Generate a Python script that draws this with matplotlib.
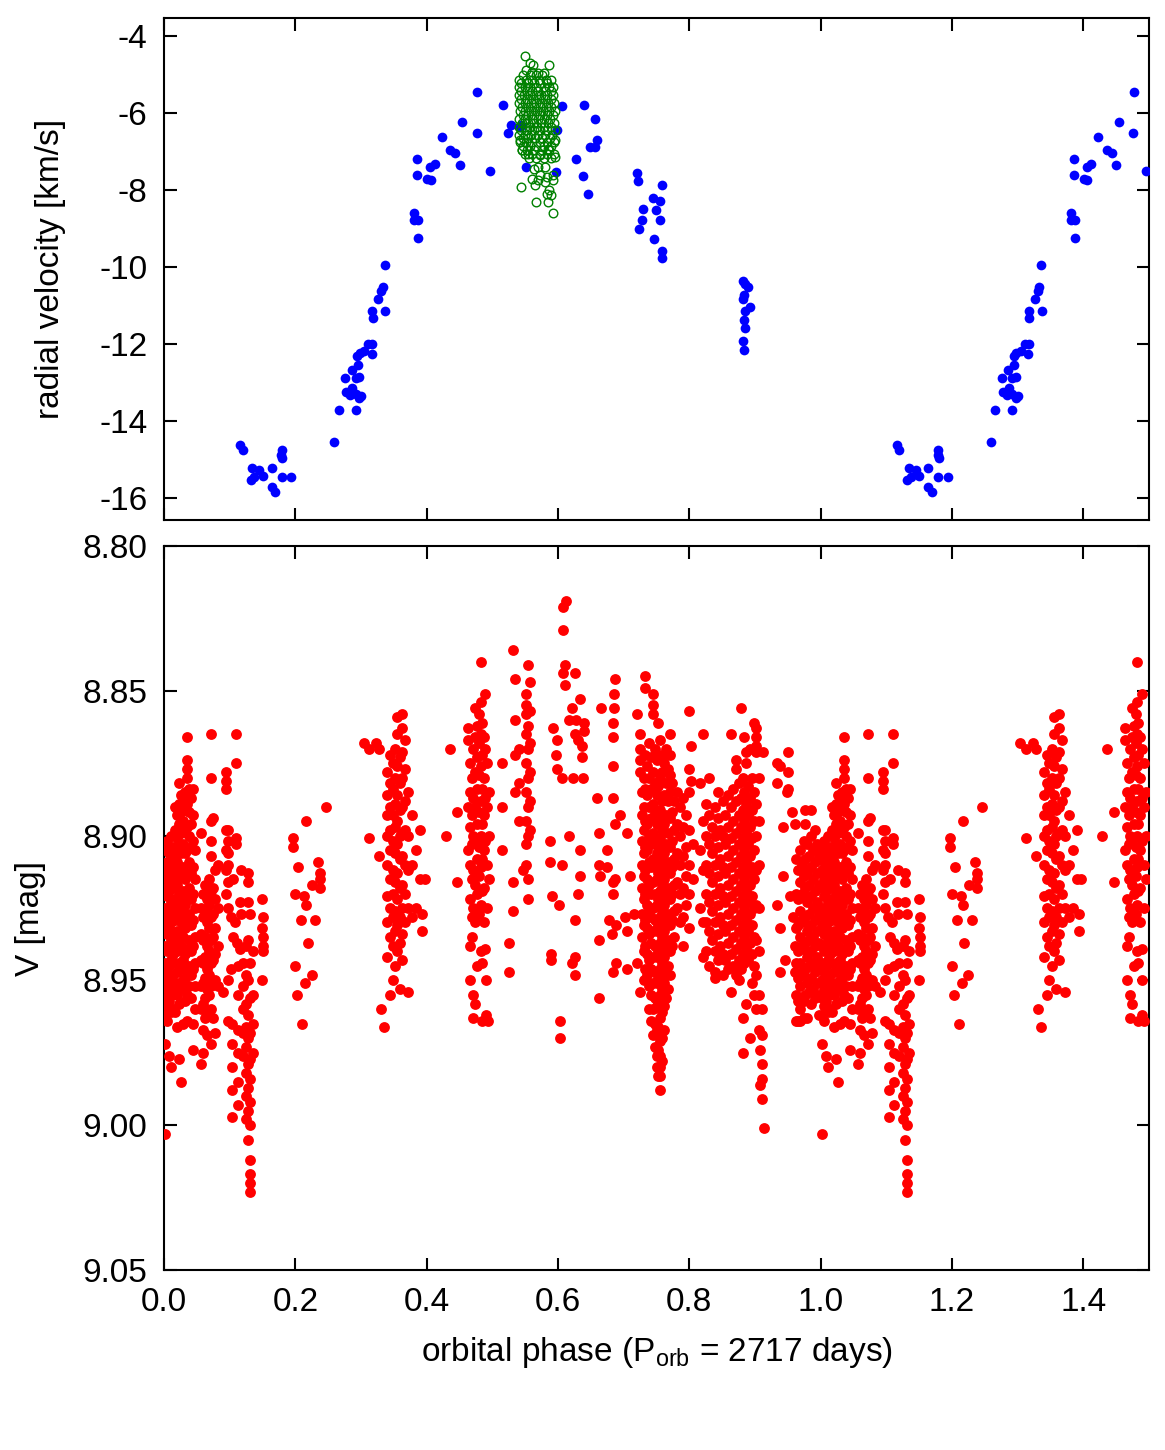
import matplotlib
matplotlib.use("Agg")
import matplotlib.pyplot as plt

plt.rcParams['font.family'] = ['Liberation Sans', 'DejaVu Sans']
plt.rcParams['axes.unicode_minus'] = False

# ---------------- radial velocity (blue, phase 0..1, repeated at +1) ----------------
rv_phase = [0.116, 0.120, 0.134, 0.145, 0.132, 0.137, 0.150, 0.164, 0.164, 0.169,
            0.179, 0.178, 0.180, 0.179, 0.194,
            0.259, 0.266, 0.292, 0.276, 0.286, 0.277, 0.283, 0.287, 0.292, 0.297,
            0.300, 0.292, 0.297, 0.295, 0.294, 0.298, 0.305, 0.311, 0.317, 0.316,
            0.318, 0.317, 0.337, 0.326, 0.331, 0.333, 0.336,
            0.381, 0.381, 0.387, 0.387, 0.386, 0.386, 0.401, 0.406, 0.405, 0.412,
            0.423, 0.436, 0.443, 0.450, 0.454, 0.476, 0.477, 0.496,
            0.517, 0.528, 0.524, 0.542, 0.544, 0.551, 0.597, 0.599, 0.606,
            0.627, 0.638, 0.645, 0.640, 0.656, 0.659, 0.649, 0.657,
            0.720, 0.722, 0.758, 0.745, 0.755, 0.730, 0.749, 0.728, 0.755, 0.724,
            0.746, 0.759, 0.759,
            0.881, 0.885, 0.890, 0.883, 0.881, 0.892, 0.885, 0.883, 0.885, 0.882, 0.884]
rv_value = [-14.62, -14.74, -15.22, -15.26, -15.52, -15.46, -15.44, -15.22, -15.70, -15.85,
            -14.75, -14.87, -14.96, -15.46, -15.46,
            -14.55, -13.71, -13.71, -12.87, -12.68, -13.25, -13.33, -13.14, -13.30, -13.40,
            -13.34, -12.87, -12.85, -12.55, -12.32, -12.23, -12.19, -11.99, -11.99, -12.25,
            -11.32, -11.14, -11.14, -10.83, -10.61, -10.53, -9.94,
            -8.60, -8.79, -8.79, -9.24, -7.20, -7.60, -7.71, -7.75, -7.41, -7.32,
            -6.61, -6.97, -7.04, -7.36, -6.23, -6.52, -5.45, -7.51,
            -5.78, -6.32, -6.53, -6.35, -6.31, -7.40, -7.54, -6.45, -5.81,
            -7.19, -7.63, -8.10, -5.79, -6.15, -6.69, -6.87, -6.88,
            -7.55, -7.76, -7.88, -8.20, -8.28, -8.49, -8.51, -8.77, -8.77, -9.00,
            -9.26, -9.58, -9.77,
            -10.36, -10.44, -10.52, -10.72, -10.82, -11.04, -11.15, -11.38, -11.58, -11.91, -12.16]

# ---------------- second RV data set (green open circles) ----------------
green_rows = [
    (-5.02, [0.546, 0.557, 0.566, 0.576]),
    (-5.13, [0.541, 0.552, 0.560, 0.571, 0.581, 0.589]),
    (-5.22, [0.544, 0.554, 0.563, 0.573, 0.584]),
    (-5.33, [0.540, 0.549, 0.558, 0.567, 0.578, 0.586, 0.592]),
    (-5.42, [0.543, 0.553, 0.561, 0.570, 0.580, 0.589]),
    (-5.53, [0.540, 0.548, 0.557, 0.566, 0.574, 0.584, 0.593]),
    (-5.63, [0.544, 0.553, 0.562, 0.571, 0.580, 0.590]),
    (-5.74, [0.541, 0.549, 0.559, 0.567, 0.576, 0.585, 0.594]),
    (-5.84, [0.545, 0.554, 0.563, 0.572, 0.581, 0.590]),
    (-5.95, [0.542, 0.550, 0.559, 0.568, 0.577, 0.587, 0.595]),
    (-6.04, [0.546, 0.555, 0.564, 0.573, 0.583, 0.592]),
    (-6.16, [0.541, 0.550, 0.560, 0.569, 0.579, 0.588]),
    (-6.25, [0.545, 0.554, 0.564, 0.574, 0.585, 0.594]),
    (-6.36, [0.540, 0.549, 0.558, 0.568, 0.578, 0.590]),
    (-6.45, [0.544, 0.553, 0.563, 0.573, 0.584, 0.595]),
    (-6.56, [0.541, 0.550, 0.559, 0.569, 0.580, 0.591]),
    (-6.65, [0.546, 0.555, 0.565, 0.576, 0.588]),
    (-6.76, [0.542, 0.551, 0.561, 0.572, 0.584, 0.594]),
    (-6.86, [0.547, 0.557, 0.567, 0.579, 0.590]),
    (-6.95, [0.545, 0.553, 0.563, 0.575, 0.586]),
    (-7.06, [0.550, 0.560, 0.572, 0.583, 0.594]),
    (-7.16, [0.556, 0.567, 0.579, 0.590]),
]
green_extra_phase = [0.550, 0.557, 0.562, 0.586, 0.552, 0.578, 0.560, 0.570,
                     0.542, 0.545, 0.555, 0.585, 0.595, 0.573, 0.595,
                     0.570, 0.564, 0.580, 0.593, 0.584, 0.573, 0.560, 0.570, 0.593,
                     0.544, 0.565, 0.580, 0.583, 0.590, 0.585, 0.566, 0.593, 0.586]
green_extra_value = [-4.52, -4.71, -4.75, -4.74, -4.88, -4.97, -4.92, -4.95,
                     -6.70, -6.96, -7.05, -6.92, -6.70, -7.09, -7.13,
                     -7.39, -7.44, -7.39, -7.61, -7.65, -7.61, -7.72, -7.74, -7.74,
                     -7.91, -7.87, -7.78, -8.09, -8.13, -8.30, -8.30, -8.59, -8.00]

# ---------------- V photometry (red, phase 0..1, repeated at +1) ----------------
v_strips = [
    # phase 0.00 - 0.05
    (0.002, [8.905, 8.912, 8.918, 8.925, 8.931, 8.938, 8.944, 8.950, 8.956, 8.962, 8.972, 9.003]),
    (0.005, [8.902, 8.909, 8.915, 8.921, 8.928, 8.934, 8.940, 8.947, 8.953, 8.959, 8.964]),
    (0.008, [8.906, 8.913, 8.919, 8.926, 8.932, 8.939, 8.945, 8.951, 8.957, 8.976]),
    (0.011, [8.900, 8.908, 8.916, 8.923, 8.930, 8.936, 8.943, 8.949, 8.955, 8.961, 8.980]),
    (0.014, [8.904, 8.911, 8.918, 8.927, 8.935, 8.941, 8.948, 8.954, 8.960]),
    (0.017, [8.890, 8.898, 8.907, 8.914, 8.922, 8.929, 8.937, 8.944, 8.952, 8.961]),
    (0.020, [8.893, 8.901, 8.909, 8.917, 8.925, 8.933, 8.940, 8.947, 8.955, 8.966]),
    (0.023, [8.882, 8.889, 8.896, 8.904, 8.912, 8.920, 8.928, 8.936, 8.944, 8.951, 8.958, 8.977]),
    (0.026, [8.886, 8.892, 8.899, 8.906, 8.914, 8.922, 8.930, 8.938, 8.946, 8.953, 8.985]),
    (0.029, [8.888, 8.895, 8.903, 8.911, 8.919, 8.927, 8.935, 8.943, 8.950, 8.965]),
    (0.032, [8.885, 8.891, 8.898, 8.906, 8.915, 8.924, 8.932, 8.941, 8.949, 8.957]),
    (0.035, [8.866, 8.874, 8.877, 8.880, 8.889, 8.897, 8.905, 8.913, 8.921, 8.930, 8.939, 8.947, 8.955, 8.964]),
    (0.038, [8.884, 8.892, 8.900, 8.909, 8.918, 8.927, 8.936, 8.945, 8.952]),
    (0.041, [8.887, 8.896, 8.904, 8.913, 8.922, 8.931, 8.940, 8.948, 8.956]),
    (0.044, [8.884, 8.893, 8.902, 8.911, 8.920, 8.929, 8.938, 8.946, 8.965, 8.974]),
    (0.047, [8.905, 8.915, 8.925, 8.935, 8.944, 8.952, 8.960]),
    # phase 0.055 - 0.085
    (0.057, [8.899, 8.925, 8.934, 8.943, 8.952, 8.960, 8.979]),
    (0.060, [8.920, 8.928, 8.936, 8.944, 8.951, 8.958, 8.967, 8.975]),
    (0.063, [8.917, 8.926, 8.935, 8.942, 8.949, 8.956, 8.963]),
    (0.066, [8.922, 8.930, 8.938, 8.946, 8.953, 8.961, 8.969]),
    (0.069, [8.915, 8.924, 8.932, 8.940, 8.948, 8.955, 8.962]),
    (0.072, [8.865, 8.880, 8.895, 8.902, 8.907, 8.919, 8.928, 8.936, 8.944, 8.952, 8.960, 8.972]),
    (0.075, [8.894, 8.918, 8.927, 8.935, 8.943, 8.951, 8.963]),
    (0.078, [8.912, 8.922, 8.932, 8.941, 8.950, 8.968]),
    (0.082, [8.910, 8.925, 8.938, 8.952]),
    # phase 0.09 - 0.155
    (0.090, [8.954]),
    (0.095, [8.878, 8.881, 8.884, 8.898, 8.905, 8.912, 8.920]),
    (0.098, [8.898, 8.902, 8.906, 8.910, 8.916, 8.925, 8.950, 8.964]),
    (0.102, [8.928, 8.946]),
    (0.104, [8.965, 8.972, 8.980, 8.988, 8.997]),
    (0.105, [8.915, 8.935]),
    (0.108, [8.930]),
    (0.110, [8.865, 8.875, 8.901, 8.903]),
    (0.111, [8.937]),
    (0.112, [8.945, 8.955, 8.967, 8.975, 8.985, 8.993]),
    (0.116, [8.923, 8.939]),
    (0.118, [8.912, 8.927]),
    (0.120, [8.944, 8.952, 8.960, 8.968, 8.976]),
    (0.125, [8.938, 8.948, 8.958, 8.966, 8.973, 8.982, 8.990, 8.998]),
    (0.128, [8.913, 8.916, 8.923, 8.936, 8.950, 8.962, 8.970, 8.979, 8.987, 8.995, 9.005]),
    (0.131, [8.927, 8.944, 8.956, 8.968, 8.977, 8.984, 8.992, 9.000, 9.012, 9.017, 9.020, 9.023]),
    (0.135, [8.940, 8.955, 8.965, 8.975]),
    (0.149, [8.922, 8.932, 8.950]),
    (0.151, [8.928, 8.935, 8.938, 8.940]),
    # phase 0.19 - 0.25
    (0.197, [8.901, 8.904]),
    (0.200, [8.920, 8.945]),
    (0.203, [8.955]),
    (0.204, [8.911]),
    (0.208, [8.929]),
    (0.210, [8.965]),
    (0.213, [8.921]),
    (0.215, [8.951]),
    (0.216, [8.895, 8.924]),
    (0.219, [8.937]),
    (0.225, [8.948]),
    (0.226, [8.917]),
    (0.230, [8.929]),
    (0.235, [8.909]),
    (0.238, [8.913, 8.915, 8.918]),
    (0.246, [8.890]),
    # phase 0.30 - 0.43
    (0.304, [8.868]),
    (0.312, [8.870, 8.901]),
    (0.323, [8.868]),
    (0.328, [8.870, 8.907]),
    (0.331, [8.960]),
    (0.335, [8.966]),
    (0.340, [8.878, 8.886, 8.893, 8.900, 8.910, 8.921, 8.930, 8.942]),
    (0.344, [8.872, 8.882, 8.890, 8.898, 8.905, 8.915, 8.925, 8.935, 8.955]),
    (0.348, [8.875, 8.884, 8.893, 8.902, 8.912, 8.920, 8.928, 8.938, 8.950]),
    (0.352, [8.870, 8.880, 8.889, 8.897, 8.906, 8.916, 8.926, 8.933, 8.945]),
    (0.355, [8.859, 8.865, 8.876, 8.886, 8.895, 8.903, 8.913, 8.922, 8.931, 8.940]),
    (0.359, [8.873, 8.882, 8.891, 8.900, 8.908, 8.918, 8.928, 8.937, 8.953]),
    (0.363, [8.858, 8.863, 8.871, 8.880, 8.890, 8.899, 8.907, 8.917, 8.925, 8.934, 8.943]),
    (0.367, [8.867, 8.877, 8.888, 8.898, 8.910, 8.920, 8.930]),
    (0.372, [8.885, 8.900, 8.912, 8.925, 8.954]),
    (0.378, [8.893, 8.910, 8.928]),
    (0.384, [8.905, 8.925]),
    (0.390, [8.898, 8.915]),
    (0.393, [8.927, 8.933]),
    (0.397, [8.915]),
    (0.429, [8.900]),
    # phase 0.43 - 0.50
    (0.436, [8.870]),
    (0.446, [8.892, 8.916]),
    (0.463, [8.863, 8.867, 8.890, 8.905]),
    (0.466, [8.875, 8.885, 8.897, 8.910, 8.922, 8.938, 8.950]),
    (0.469, [8.880, 8.893, 8.903, 8.915, 8.928, 8.935]),
    (0.471, [8.870, 8.887, 8.900, 8.912, 8.925, 8.955, 8.963]),
    (0.474, [8.856, 8.866, 8.878, 8.890, 8.902, 8.917, 8.930, 8.958]),
    (0.477, [8.862, 8.873, 8.884, 8.896, 8.908, 8.920, 8.945]),
    (0.480, [8.858, 8.868, 8.879, 8.892, 8.904, 8.914, 8.927]),
    (0.482, [8.840, 8.854, 8.865, 8.876, 8.888, 8.900, 8.911, 8.924, 8.940]),
    (0.484, [8.861, 8.872, 8.884, 8.896, 8.908, 8.919, 8.944, 8.964]),
    (0.487, [8.866, 8.880, 8.893, 8.905, 8.918, 8.930]),
    (0.489, [8.851, 8.870, 8.887, 8.902, 8.939]),
    (0.490, [8.950, 8.962]),
    (0.492, [8.875, 8.890, 8.910, 8.925]),
    (0.493, [8.964]),
    (0.495, [8.885, 8.900, 8.915]),
    # phase 0.51 - 0.56
    (0.515, [8.875, 8.890, 8.905]),
    (0.526, [8.937, 8.947]),
    (0.532, [8.836, 8.916, 8.926]),
    (0.535, [8.846, 8.860, 8.872, 8.885]),
    (0.540, [8.870, 8.882, 8.895]),
    (0.547, [8.912]),
    (0.552, [8.851, 8.855, 8.858, 8.865, 8.875, 8.885, 8.895, 8.903, 8.910]),
    (0.554, [8.841, 8.862, 8.870, 8.880, 8.890, 8.900, 8.915, 8.922]),
    (0.557, [8.847, 8.857, 8.868, 8.878, 8.888, 8.898]),
    # phase 0.585 - 0.725
    (0.588, [8.902, 8.909]),
    (0.589, [8.941, 8.943]),
    (0.591, [8.921]),
    (0.592, [8.863]),
    (0.597, [8.872]),
    (0.599, [8.867, 8.877]),
    (0.602, [8.924]),
    (0.603, [8.964, 8.970]),
    (0.606, [8.880, 8.910]),
    (0.607, [8.821, 8.829, 8.844]),
    (0.611, [8.841, 8.848]),
    (0.612, [8.819]),
    (0.616, [8.860, 8.900]),
    (0.621, [8.944]),
    (0.622, [8.856]),
    (0.623, [8.880]),
    (0.626, [8.844, 8.865, 8.929, 8.942, 8.948]),
    (0.628, [8.860]),
    (0.631, [8.867, 8.920]),
    (0.634, [8.853, 8.905, 8.914]),
    (0.636, [8.869, 8.873]),
    (0.638, [8.880]),
    (0.640, [8.861, 8.864]),
    (0.659, [8.887]),
    (0.662, [8.899, 8.910, 8.936, 8.956]),
    (0.664, [8.914]),
    (0.665, [8.856]),
    (0.674, [8.905, 8.911]),
    (0.677, [8.929]),
    (0.682, [8.934]),
    (0.683, [8.866, 8.876]),
    (0.684, [8.861, 8.887, 8.916, 8.920, 8.947]),
    (0.686, [8.851, 8.856]),
    (0.687, [8.846, 8.896, 8.915]),
    (0.689, [8.931, 8.944]),
    (0.694, [8.893]),
    (0.702, [8.928]),
    (0.705, [8.899, 8.933, 8.946]),
    (0.710, [8.914]),
    (0.715, [8.927]),
    (0.720, [8.858, 8.944]),
    (0.725, [8.865, 8.870, 8.874, 8.878, 8.954]),
    # phase 0.728 - 0.806 (dense)
    (0.728, [8.885, 8.893, 8.902, 8.910, 8.918, 8.927, 8.935]),
    (0.731, [8.880, 8.890, 8.898, 8.906, 8.914, 8.922, 8.931, 8.940, 8.950]),
    (0.733, [8.845, 8.849, 8.872, 8.884, 8.895, 8.904, 8.912, 8.920, 8.929, 8.938, 8.946]),
    (0.736, [8.876, 8.886, 8.896, 8.905, 8.915, 8.924, 8.932, 8.941, 8.948]),
    (0.739, [8.868, 8.880, 8.890, 8.900, 8.909, 8.917, 8.926, 8.934, 8.943, 8.952, 8.960]),
    (0.742, [8.873, 8.884, 8.894, 8.903, 8.911, 8.920, 8.928, 8.937, 8.946, 8.955, 8.964]),
    (0.744, [8.851, 8.855, 8.858, 8.878, 8.889, 8.899, 8.908, 8.916, 8.925, 8.933, 8.942, 8.951, 8.960, 8.969]),
    (0.747, [8.870, 8.882, 8.892, 8.902, 8.911, 8.920, 8.929, 8.938, 8.947, 8.956, 8.965, 8.973]),
    (0.750, [8.874, 8.886, 8.896, 8.906, 8.915, 8.924, 8.933, 8.942, 8.951, 8.959, 8.967, 8.976, 8.980]),
    (0.753, [8.861, 8.872, 8.883, 8.894, 8.904, 8.913, 8.922, 8.931, 8.940, 8.949, 8.958, 8.966, 8.974, 8.983]),
    (0.755, [8.867, 8.880, 8.891, 8.901, 8.910, 8.919, 8.928, 8.937, 8.946, 8.955, 8.963, 8.971, 8.976, 8.980, 8.983, 8.988]),
    (0.758, [8.872, 8.878, 8.888, 8.898, 8.908, 8.917, 8.926, 8.935, 8.944, 8.953, 8.961, 8.970, 8.978]),
    (0.761, [8.875, 8.886, 8.896, 8.906, 8.915, 8.924, 8.933, 8.942, 8.951, 8.959, 8.967]),
    (0.764, [8.870, 8.882, 8.893, 8.903, 8.912, 8.921, 8.930, 8.939, 8.948, 8.956]),
    (0.767, [8.877, 8.888, 8.899, 8.909, 8.918, 8.927, 8.936, 8.945, 8.953]),
    (0.771, [8.865, 8.872, 8.879, 8.885, 8.894, 8.904, 8.913, 8.922, 8.931, 8.940, 8.948]),
    (0.774, [8.882, 8.892, 8.902, 8.911, 8.920, 8.929, 8.938]),
    (0.777, [8.888, 8.898, 8.908, 8.917, 8.926, 8.935]),
    (0.781, [8.885, 8.896, 8.906, 8.916, 8.925]),
    (0.786, [8.890, 8.900, 8.910, 8.920, 8.930]),
    (0.790, [8.887, 8.897, 8.907, 8.918, 8.928, 8.938]),
    (0.795, [8.893, 8.904, 8.914, 8.924]),
    (0.800, [8.857, 8.877, 8.885, 8.898, 8.910, 8.920, 8.932]),
    (0.802, [8.869, 8.881]),
    (0.806, [8.903, 8.915]),
    # phase 0.816 - 0.915 (dense)
    (0.816, [8.882, 8.905, 8.925]),
    (0.821, [8.865, 8.895, 8.912, 8.930, 8.942]),
    (0.825, [8.889, 8.900, 8.910, 8.920, 8.930, 8.940]),
    (0.830, [8.880, 8.893, 8.903, 8.913, 8.923, 8.933, 8.945]),
    (0.834, [8.897, 8.906, 8.916, 8.926, 8.936]),
    (0.839, [8.890, 8.900, 8.910, 8.920, 8.930, 8.940, 8.947, 8.949]),
    (0.843, [8.885, 8.894, 8.904, 8.914, 8.924, 8.934, 8.943]),
    (0.847, [8.898, 8.908, 8.918, 8.928, 8.938]),
    (0.851, [8.888, 8.900, 8.911, 8.921, 8.931, 8.941, 8.948]),
    (0.855, [8.893, 8.903, 8.913, 8.923, 8.933, 8.943]),
    (0.859, [8.886, 8.897, 8.907, 8.917, 8.927, 8.937, 8.946]),
    (0.863, [8.865, 8.890, 8.901, 8.911, 8.921, 8.931, 8.941, 8.954]),
    (0.867, [8.884, 8.895, 8.905, 8.915, 8.925, 8.935, 8.945]),
    (0.871, [8.874, 8.877, 8.888, 8.899, 8.909, 8.919, 8.929, 8.939, 8.948]),
    (0.875, [8.882, 8.893, 8.903, 8.913, 8.923, 8.933, 8.943, 8.950]),
    (0.878, [8.856, 8.887, 8.897, 8.907, 8.917, 8.927, 8.937, 8.946]),
    (0.881, [8.880, 8.891, 8.901, 8.911, 8.921, 8.931, 8.941, 8.963, 8.975]),
    (0.884, [8.866, 8.885, 8.895, 8.905, 8.915, 8.925, 8.935, 8.944]),
    (0.887, [8.871, 8.875, 8.889, 8.899, 8.909, 8.919, 8.929, 8.939, 8.958]),
    (0.890, [8.883, 8.893, 8.903, 8.913, 8.923, 8.933, 8.943]),
    (0.893, [8.870, 8.887, 8.897, 8.907, 8.917, 8.927, 8.937, 8.970]),
    (0.896, [8.880, 8.891, 8.901, 8.911, 8.921, 8.931, 8.941, 8.951]),
    (0.899, [8.861, 8.885, 8.895, 8.905, 8.915, 8.925, 8.935, 8.945, 8.955]),
    (0.902, [8.863, 8.866, 8.869, 8.871, 8.889, 8.900, 8.912, 8.924, 8.936, 8.948, 8.960]),
    (0.906, [8.880, 8.895, 8.910, 8.925, 8.940, 8.955, 8.967]),
    (0.908, [8.974, 8.986]),
    (0.910, [8.960, 8.969, 8.979, 8.984]),
    (0.911, [8.991]),
    (0.912, [8.871]),
    (0.914, [9.001]),
    # phase 0.93 - 0.96
    (0.934, [8.875, 8.882, 8.924]),
    (0.938, [8.876, 8.932, 8.947]),
    (0.943, [8.897, 8.914]),
    (0.946, [8.943]),
    (0.948, [8.885]),
    (0.950, [8.871, 8.878, 8.884]),
    (0.953, [8.921]),
    (0.956, [8.892]),
    (0.958, [8.928]),
    (0.961, [8.896, 8.938, 8.947]),
    # phase 0.963 - 1.0 (dense)
    (0.963, [8.908, 8.920, 8.932, 8.944, 8.955, 8.964]),
    (0.966, [8.912, 8.922, 8.931, 8.940, 8.949, 8.957, 8.964]),
    (0.969, [8.905, 8.916, 8.926, 8.935, 8.944, 8.952, 8.960, 8.964]),
    (0.972, [8.910, 8.920, 8.929, 8.938, 8.947, 8.956]),
    (0.974, [8.902, 8.914, 8.921, 8.930, 8.939, 8.948, 8.957, 8.963]),
    (0.976, [8.891, 8.896, 8.908, 8.918, 8.928, 8.937, 8.946, 8.955]),
    (0.979, [8.903, 8.913, 8.923, 8.933, 8.942, 8.951, 8.963]),
    (0.982, [8.907, 8.917, 8.927, 8.936, 8.945, 8.954]),
    (0.986, [8.891, 8.900, 8.911, 8.921, 8.931, 8.940, 8.949, 8.958]),
    (0.989, [8.905, 8.915, 8.925, 8.935, 8.944, 8.953]),
    (0.992, [8.898, 8.909, 8.919, 8.929, 8.938, 8.947, 8.956]),
    (0.995, [8.903, 8.913, 8.923, 8.933, 8.942, 8.951]),
    (0.998, [8.907, 8.917, 8.927, 8.937, 8.946, 8.955, 8.962]),
]

x_ticks = [0.0, 0.2, 0.4, 0.6, 0.8, 1.0, 1.2, 1.4]
x_ticklabels = ['0.0', '0.2', '0.4', '0.6', '0.8', '1.0', '1.2', '1.4']
rv_ticks = [-16, -14, -12, -10, -8, -6, -4]
v_ticks = [8.80, 8.85, 8.90, 8.95, 9.00, 9.05]
v_ticklabels = ['8.80', '8.85', '8.90', '8.95', '9.00', '9.05']

# ---------------- build arrays ----------------
v_phase, v_mag = [], []
for ph, mags in v_strips:
    for m in mags:
        v_phase.append(ph)
        v_mag.append(m)

g_phase, g_value = [], []
for val, phs in green_rows:
    for ph in phs:
        g_phase.append(ph)
        g_value.append(val)
g_phase += green_extra_phase
g_value += green_extra_value

def doubled(ph, val):
    xs = list(ph) + [p + 1.0 for p in ph]
    ys = list(val) + list(val)
    return xs, ys

W, H = 1165, 1450
fig = plt.figure(figsize=(W / 100, H / 100), dpi=100)
ax1 = fig.add_axes([164 / W, 1 - 520 / H, (1149 - 164) / W, (520 - 18) / H])
ax2 = fig.add_axes([164 / W, 1 - 1270 / H, (1149 - 164) / W, (1270 - 546) / H])

fs = 24

# top panel
bx, by = doubled(rv_phase, rv_value)
ax1.plot(bx, by, 'o', color='#0000ff', markersize=7.0, markeredgewidth=0, linestyle='none', zorder=3)
ax1.plot(g_phase, g_value, 'o', markerfacecolor='none', markeredgecolor='#008000',
         markersize=6.2, markeredgewidth=1.0, linestyle='none', zorder=4)
ax1.set_xlim(0, 1.5)
ax1.set_ylim(-16.57, -3.53)
ax1.set_yticks(rv_ticks)
ax1.set_yticklabels([str(t) for t in rv_ticks])
ax1.set_xticks(x_ticks)
ax1.set_xticklabels([])

# bottom panel
rx, ry = doubled(v_phase, v_mag)
ax2.plot(rx, ry, 'o', color='#ff0000', markersize=7.8, markeredgewidth=0, linestyle='none', zorder=3)
ax2.set_xlim(0, 1.5)
ax2.set_ylim(9.05, 8.80)
ax2.set_yticks(v_ticks)
ax2.set_yticklabels(v_ticklabels)
ax2.set_xticks(x_ticks)
ax2.set_xticklabels(x_ticklabels)

for ax in (ax1, ax2):
    for s in ax.spines.values():
        s.set_linewidth(1.5)
    ax.tick_params(direction='in', length=9, width=1.5, top=True, right=True,
                   labelsize=fs, pad=12)
    ax.minorticks_off()

# axis titles placed at the reference positions
fig.text(50 / W, 1 - 269 / H, 'radial velocity [km/s]', rotation=90,
         ha='center', va='center', fontsize=fs)
fig.text(30 / W, 1 - 918 / H, 'V [mag]', rotation=90,
         ha='center', va='center', fontsize=fs)
fig.text(656.5 / W, 1 - 1352 / H, r'orbital phase (P$_{\mathregular{orb}}$ = 2717 days)',
         ha='center', va='center', fontsize=fs)

fig.savefig('out.png', dpi=100)
